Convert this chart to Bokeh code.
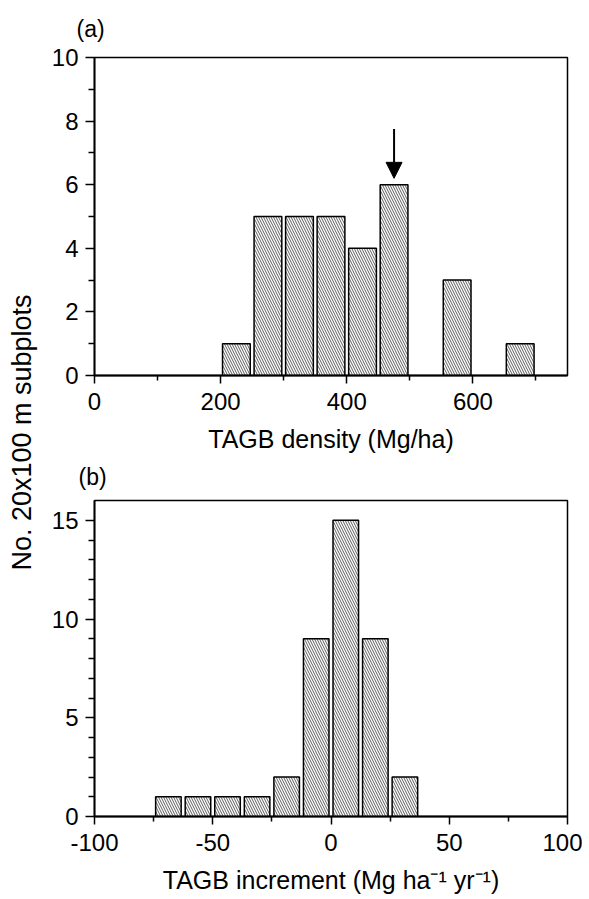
from math import pi
from bokeh.plotting import figure
from bokeh.layouts import row, column
from bokeh.models import (Range1d, FixedTicker, Label, Arrow, NormalHead,
                          ColumnDataSource)
from bokeh.embed import file_html
from bokeh.resources import INLINE

# ---------------- data ----------------
# (a) TAGB density histogram (bins of 50 Mg/ha)
density_bin_centers = [225, 275, 325, 375, 425, 475, 525, 575, 625, 675]
density_counts = [1, 5, 5, 5, 4, 6, 0, 3, 0, 1]
density_xticks = [0, 200, 400, 600]
density_xminor = [100, 300, 500, 700]
density_yticks = [0, 2, 4, 6, 8, 10]
density_yminor = [1, 3, 5, 7, 9]
marked_bin_center = 475          # bin indicated by the arrow

# (b) TAGB increment histogram (bins of 12.5 Mg ha-1 yr-1)
increment_bin_centers = [-68.75, -56.25, -43.75, -31.25, -18.75, -6.25, 6.25, 18.75, 31.25]
increment_counts = [1, 1, 1, 1, 2, 9, 15, 9, 2]
increment_xticks = [-100, -50, 0, 50, 100]
increment_xtick_labels = ["-100", "-50", "0", "50", "100"]
increment_xminor = [-75, -25, 25, 75]
increment_yticks = [0, 5, 10, 15]
increment_yminor = [1, 2, 3, 4, 6, 7, 8, 9, 11, 12, 13, 14]

y_label = "No. 20x100 m subplots"
xlabel_a = "TAGB density (Mg/ha)"
xlabel_b = "TAGB increment (Mg ha\u207b\u00b9 yr\u207b\u00b9)"

FONT = "Liberation Sans"


def style(p, xt, xm, yt, ym, xlabel, tick_standoff, label_standoff):
    p.xaxis.ticker = FixedTicker(ticks=xt, minor_ticks=xm)
    p.yaxis.ticker = FixedTicker(ticks=yt, minor_ticks=ym)
    p.xgrid.visible = False
    p.ygrid.visible = False
    for ax in p.axis:
        ax.axis_line_width = 1.8
        ax.axis_line_color = "black"
        ax.major_tick_line_width = 1.5
        ax.minor_tick_line_width = 1.5
        ax.major_tick_line_color = "black"
        ax.minor_tick_line_color = "black"
        ax.major_tick_in = 0
        ax.minor_tick_in = 0
        ax.major_label_text_font = FONT
        ax.major_label_text_font_size = "24px"
        ax.major_label_text_color = "black"
    p.xaxis.major_tick_out = 8
    p.xaxis.minor_tick_out = 5
    p.yaxis.major_tick_out = 9
    p.yaxis.minor_tick_out = 6
    p.xaxis.major_label_standoff = tick_standoff
    p.yaxis.major_label_standoff = 7
    p.xaxis.axis_label = xlabel
    p.xaxis.axis_label_text_font = FONT
    p.xaxis.axis_label_text_font_size = "25px"
    p.xaxis.axis_label_text_font_style = "normal"
    p.xaxis.axis_label_text_color = "black"
    p.xaxis.axis_label_standoff = label_standoff
    p.outline_line_color = "black"
    p.outline_line_width = 1.5
    p.outline_line_alpha = 1.0
    p.background_fill_color = "white"
    p.border_fill_color = "white"


def panel_title(p, text, standoff, offset):
    p.title.text = text
    p.title.align = "left"
    p.title.vertical_align = "top"
    p.title.offset = offset
    p.title.standoff = standoff
    p.title.text_font = FONT
    p.title.text_font_size = "23px"
    p.title.text_font_style = "normal"
    p.title.text_color = "black"


def bars(p, centers, counts, width):
    xs = [c for c, n in zip(centers, counts) if n > 0]
    ns = [n for n in counts if n > 0]
    src = ColumnDataSource(dict(x=xs, top=ns))
    p.vbar(x="x", top="top", bottom=0, width=width, source=src,
           fill_color="white", line_color="black", line_width=1.5,
           hatch_pattern="\\", hatch_color="#333333", hatch_scale=5,
           hatch_weight=0.8)


# ---------------- y-label strip ----------------
lab = figure(width=48, height=899, x_range=Range1d(0, 48), y_range=Range1d(899, 0),
             x_axis_type=None, y_axis_type=None, toolbar_location=None,
             output_backend="svg", min_border=0)
lab.outline_line_color = None
lab.xgrid.visible = False
lab.ygrid.visible = False
lab.add_layout(Label(x=21, y=432, text=y_label, angle=pi / 2,
                     text_align="center", text_baseline="middle",
                     text_font=FONT, text_font_size="27px", text_color="black"))

# ---------------- panel (a) ----------------
pa = figure(width=534, height=455, x_range=Range1d(0, 750), y_range=Range1d(0, 10),
            toolbar_location=None, output_backend="svg",
            min_border_left=46, min_border_right=14, min_border_top=57,
            min_border_bottom=80)
style(pa, density_xticks, density_xminor, density_yticks, density_yminor, xlabel_a, 9, 12)
panel_title(pa, "(a)", 27, -18)
bars(pa, density_bin_centers, density_counts, 44)
marked_count = density_counts[density_bin_centers.index(marked_bin_center)]
pa.add_layout(Arrow(end=NormalHead(size=16, fill_color="black", line_color="black"),
                    x_start=marked_bin_center, y_start=marked_count + 1.75,
                    x_end=marked_bin_center, y_end=marked_count + 0.2,
                    line_width=2, line_color="black"))

# ---------------- panel (b) ----------------
pb = figure(width=534, height=444, x_range=Range1d(-100, 100), y_range=Range1d(0, 16),
            toolbar_location=None, output_backend="svg",
            min_border_left=45, min_border_right=15, min_border_top=43,
            min_border_bottom=83)
style(pb, increment_xticks, increment_xminor, increment_yticks, increment_yminor, xlabel_b, 9, 12)
pb.xaxis.major_label_overrides = {t: s for t, s in zip(increment_xticks, increment_xtick_labels)}
panel_title(pb, "(b)", 17, -16)
bars(pb, increment_bin_centers, increment_counts, 10.8)

layout = row(lab, column(pa, pb))

open("out.html", "w").write(file_html(layout, INLINE))
